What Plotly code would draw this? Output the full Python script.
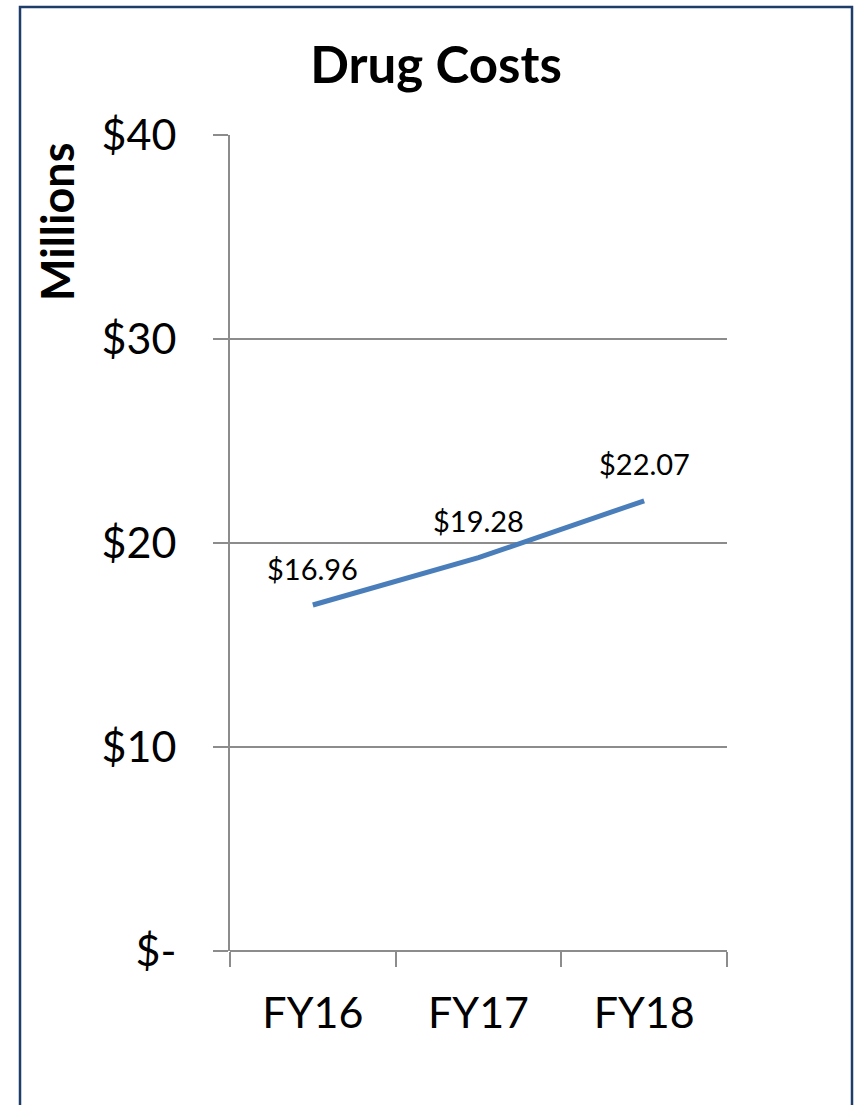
import plotly.graph_objects as go

categories = ["FY16", "FY17", "FY18"]
values = [16.96, 19.28, 22.07]
labels = ["$16.96", "$19.28", "$22.07"]
y_tickvals = [0, 10, 20, 30, 40]
y_ticktext = ["$-", "$10", "$20", "$30", "$40"]

W, H = 856, 1105
PL, PR, PT, PB = 230, 727, 135, 951  # plot area in pixels
L, R, T, B = PL, W - PR, PT, H - PB
pw, ph = PR - PL, PB - PT

def px_x(p):
    return (p - PL) / pw

def px_y(p):
    return (PB - p) / ph

FONT = "Lato, 'Open Sans', sans-serif"
GRAY = "#8c8c8c"

fig = go.Figure()
fig.add_trace(go.Scatter(
    x=categories, y=values, mode="lines",
    line=dict(color="#4a7ebb", width=5),
    hoverinfo="skip", showlegend=False,
))

for c, v, t in zip(categories, values, labels):
    fig.add_annotation(x=c, y=v, text=t, showarrow=False, yshift=37,
                       font=dict(family=FONT, size=29, color="#000000"))

fig.update_layout(
    width=W, height=H,
    margin=dict(l=L, r=R, t=T, b=B, autoexpand=False),
    paper_bgcolor="white", plot_bgcolor="white",
    title=dict(text="<b>Drug Costs</b>", x=436 / W, xanchor="center",
               xref="container", yref="container", y=1 - 65 / H,
               yanchor="middle",
               font=dict(family=FONT, size=51, color="#000000")),
    xaxis=dict(type="category", range=[-0.5, 2.5], tickson="boundaries",
               ticks="outside", ticklen=15, tickcolor=GRAY, tickwidth=2,
               showgrid=False, showline=False, zeroline=False,
               ticklabelstandoff=33,
               tickfont=dict(family=FONT, size=43, color="#000000")),
    yaxis=dict(range=[0, 40], tickvals=y_tickvals, ticktext=y_ticktext,
               ticks="outside", ticklen=15, tickcolor=GRAY, tickwidth=2,
               showline=True, linecolor=GRAY, linewidth=2,
               showgrid=True, gridcolor=GRAY, gridwidth=1.5,
               zeroline=True, zerolinecolor=GRAY, zerolinewidth=2,
               ticklabelstandoff=28,
               tickfont=dict(family=FONT, size=43, color="#000000")),
    shapes=[dict(type="rect", xref="paper", yref="paper",
                 x0=px_x(20), x1=px_x(852), y0=px_y(1130), y1=px_y(7),
                 line=dict(color="#1f3d6b", width=2.5), fillcolor="rgba(0,0,0,0)",
                 layer="above")],
)

fig.add_annotation(x=px_x(57), y=px_y(222), xref="paper", yref="paper",
                   text="<b>Millions</b>", textangle=-90, showarrow=False,
                   xanchor="center", yanchor="middle",
                   font=dict(family=FONT, size=45, color="#000000"))

fig.write_html(
    "out.html",
    config={"displayModeBar": False},
    post_script="document.body.style.margin='0';document.body.style.overflow='hidden';",
)
